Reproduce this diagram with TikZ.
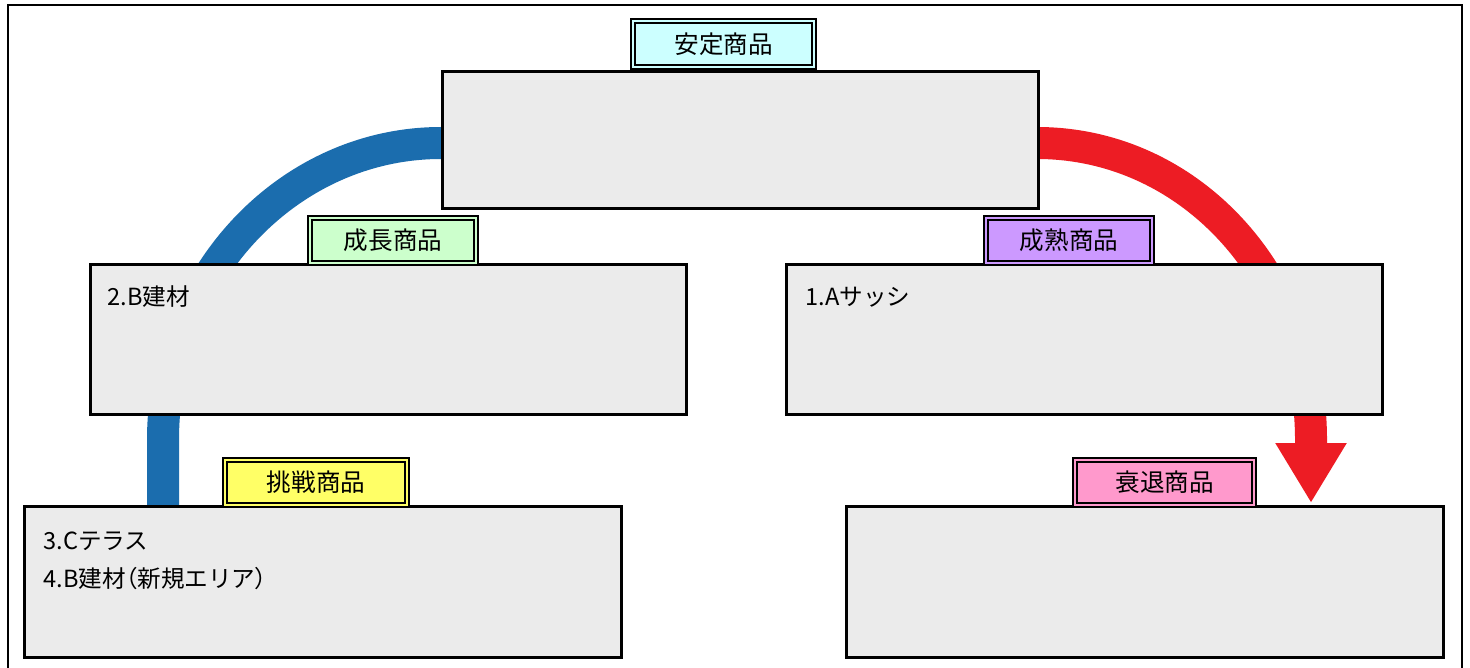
\documentclass[tikz,border=0pt]{standalone}
\usepackage{fontspec}
\setmainfont{Noto Sans CJK JP}
\newfontfamily\paltfont[RawFeature=+palt]{Noto Sans CJK JP}
\usetikzlibrary{arrows.meta,calc,backgrounds}
\definecolor{boxgray}{HTML}{EBEBEB}
\definecolor{tabcyan}{HTML}{CCFFFF}
\definecolor{tabgreen}{HTML}{CCFFCC}
\definecolor{tabpurple}{HTML}{CC99FF}
\definecolor{tabyellow}{HTML}{FFFF66}
\definecolor{tabpink}{HTML}{FF99CC}
\definecolor{arcblue}{HTML}{1B6DAE}
\definecolor{arcred}{HTML}{ED1C24}
\begin{document}
\begin{tikzpicture}[x=0.5pt,y=-0.5pt,
  box/.style={draw=black, line width=1.4pt, fill=boxgray, rectangle, inner sep=0pt, anchor=north west},
  tab/.style={draw=black, line width=1.15pt, double distance=1pt, inner sep=0pt, anchor=north west, font=\fontsize{12.3}{14}\selectfont},
  txt/.style={anchor=west, inner sep=0pt, font=\fontsize{11.8}{14}\selectfont},
  flow/.style={line width=16pt}]
\useasboundingbox (0,0) rectangle (1470,668);
% boxes
\node[box, minimum width=298pt, minimum height=68.5pt] (top) at (441,70) {};
\node[box, minimum width=298pt, minimum height=75pt] (b2) at (89,263) {};
\node[box, minimum width=298pt, minimum height=75pt] (b1) at (785,263) {};
\node[box, minimum width=298.5pt, minimum height=75.5pt] (b3) at (23,505) {};
\node[box, minimum width=298.5pt, minimum height=75.5pt] (b4) at (845,505) {};
% connectors behind the boxes
\coordinate (bs) at (441,143);
\coordinate (bm) at (163,440);
\coordinate (be) at (163,505);
\coordinate (rs) at (1037,143);
\coordinate (rm) at (1311,440);
\coordinate (re) at (1311,503);
\begin{pgfonlayer}{background}
\fill[white] (0,0) rectangle (1470,668);
\draw[line width=1pt] (8,690) -- (8,5) -- (1462,5) -- (1462,690);
\draw[flow, arcblue] (bs) .. controls (288,143) and (163,276) .. (bm) -- (be);
\draw[flow, arcred, -{Triangle[width=33.5pt,length=30pt]}] (rs) .. controls (1190,143) and (1311,276) .. (rm) -- (re);
\end{pgfonlayer}
% tabs
\node[tab, fill=tabcyan, double=tabcyan, minimum width=90.5pt, minimum height=23pt] (t0) at (632,20) {安定商品};
\node[tab, fill=tabgreen, double=tabgreen, minimum width=83pt, minimum height=22.5pt] (t2) at (309,217) {成長商品};
\node[tab, fill=tabpurple, double=tabpurple, minimum width=83pt, minimum height=22.5pt] (t1) at (985,217) {成熟商品};
\node[tab, fill=tabyellow, double=tabyellow, minimum width=91pt, minimum height=22.5pt] (t3) at (224,459) {挑戦商品};
\node[tab, fill=tabpink, double=tabpink, minimum width=89.5pt, minimum height=22.5pt] (t4) at (1074,459) {衰退商品};
% texts
\node[txt] (x2) at ($(b2.north west)+(18,34)$) {2.B建材};
\node[txt] (x1) at ($(b1.north west)+(20,34)$) {1.Aサッシ};
\node[txt] (x3) at ($(b3.north west)+(20,36)$) {3.Cテラス};
\node[txt] (x4) at ($(b3.north west)+(20,74)$) {4.B建材{\paltfont （}新規エリア{\paltfont ）}};
\end{tikzpicture}
\end{document}
